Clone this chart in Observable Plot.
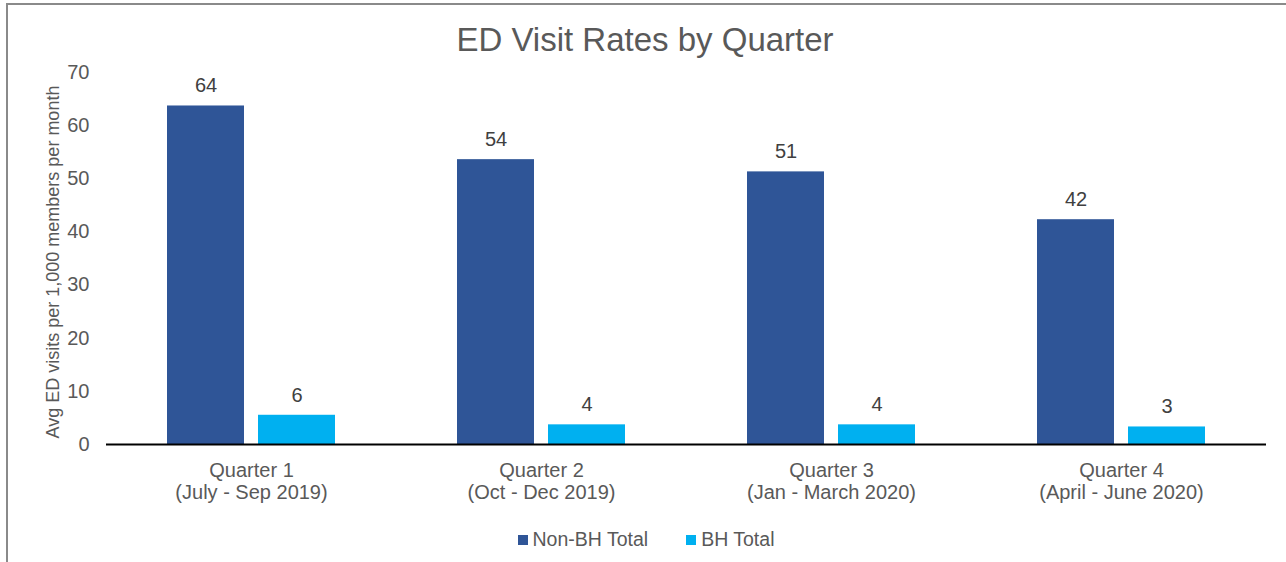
<!DOCTYPE html>
<html>
<head>
<meta charset="utf-8">
<script src="https://cdn.jsdelivr.net/npm/d3@7"></script>
<script src="https://cdn.jsdelivr.net/npm/@observablehq/plot@0.6"></script>
<style>
  body { margin: 0; background: #fff; }
  #wrap { position: relative; width: 1286px; height: 562px; overflow: hidden; font-family: "Liberation Sans", Arial, sans-serif; color: #595959; }
  #frame { position: absolute; left: 6px; top: 3px; right: -10px; bottom: -10px; border-top: 2px solid #8a8a8a; border-left: 2px solid #8a8a8a; pointer-events: none; }
  #title { position: absolute; top: 23px; left: 0; width: 1290px; text-align: center; font-size: 33px; line-height: 33px; }
  #chart { position: absolute; top: 62px; left: 0; }
  #ylabel { position: absolute; left: 53px; top: 262px; transform: translate(-50%, -50%) rotate(-90deg); white-space: nowrap; font-size: 18px; line-height: 18px; }
  #legend { position: absolute; top: 530px; left: 0; width: 1292px; display: flex; justify-content: center; gap: 38px; font-size: 19.5px; line-height: 19px; }
  .item { display: flex; align-items: center; }
  .sw { width: 10px; height: 10px; margin-right: 5px; margin-top: 1px; }
</style>
</head>
<body>
<div id="wrap">
  <div id="frame"></div>
  <div id="title"></div>
  <div id="ylabel"></div>
  <div id="chart"></div>
  <div id="legend"></div>
</div>
<script>
const chartTitle = "ED Visit Rates by Quarter";
const yAxisLabel = "Avg ED visits per 1,000 members per month";
const quarters = ["Quarter 1", "Quarter 2", "Quarter 3", "Quarter 4"];
const periods = ["(July - Sep 2019)", "(Oct - Dec 2019)", "(Jan - March 2020)", "(April - June 2020)"];
const series = ["Non-BH Total", "BH Total"];
const nonBHValues = [63.7, 53.6, 51.3, 42.3];
const bhValues = [5.5, 3.7, 3.7, 3.3];
const yTicks = [0, 10, 20, 30, 40, 50, 60, 70];
const colors = ["#2F5597", "#00B0F0"];

const data = [];
quarters.forEach((q, i) => {
  data.push({quarter: q, series: series[0], value: nonBHValues[i]});
  data.push({quarter: q, series: series[1], value: bhValues[i]});
});
const periodOf = Object.fromEntries(quarters.map((q, i) => [q, periods[i]]));

document.getElementById("title").textContent = chartTitle;
document.getElementById("ylabel").textContent = yAxisLabel;

const chart = Plot.plot({
  width: 1286,
  height: 452,
  marginTop: 10,
  marginBottom: 70,
  marginLeft: 105,
  marginRight: 20,
  style: {fontFamily: "'Liberation Sans', Arial, sans-serif", fontSize: "20px", color: "#595959", background: "transparent"},
  fx: {domain: quarters, padding: 0, label: null, axis: null},
  x: {domain: series, paddingInner: 0.153, paddingOuter: 0.661, axis: null},
  y: {domain: [0, 70], ticks: yTicks, tickSize: 0, tickPadding: 17, label: null},
  color: {domain: series, range: colors},
  marks: [
    Plot.axisFx({anchor: "bottom", tickSize: 0, tickPadding: 16, lineHeight: 1.13, label: null,
      tickFormat: q => q + "\n" + periodOf[q], fill: "#595959"}),
    Plot.barY(data, {fx: "quarter", x: "series", y: "value", fill: "series"}),
    Plot.text(data, {fx: "quarter", x: "series", y: "value", text: d => String(Math.round(d.value)), dy: -20, fill: "#404040"}),
    Plot.ruleY([0], {stroke: "#000", strokeWidth: 2})
  ]
});
document.getElementById("chart").appendChild(chart);

const legend = document.getElementById("legend");
series.forEach((s, i) => {
  const item = document.createElement("div");
  item.className = "item";
  const sw = document.createElement("span");
  sw.className = "sw";
  sw.style.background = colors[i];
  const label = document.createElement("span");
  label.textContent = s;
  item.appendChild(sw);
  item.appendChild(label);
  legend.appendChild(item);
});
</script>
</body>
</html>
